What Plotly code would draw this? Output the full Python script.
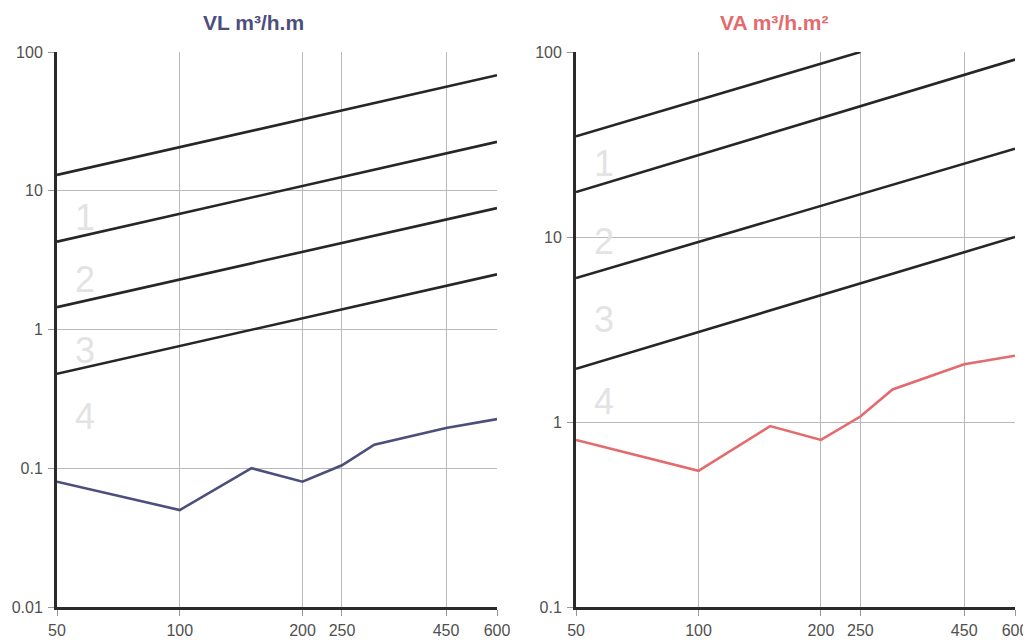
import math
import plotly.graph_objects as go

# ---------------- data ----------------
x_ticks = [50, 100, 200, 250, 450, 600]
x_grid = [100, 200, 250, 450]
x_ends = [50, 600]

# left panel (VL m3/h.m)
vl_line1 = [13.0, 68.0]
vl_line2 = [4.3, 22.5]
vl_line3 = [1.45, 7.5]
vl_line4 = [0.48, 2.5]
vl_x = [50, 100, 150, 200, 250, 300, 450, 600]
vl_y = [0.08, 0.05, 0.10, 0.08, 0.105, 0.148, 0.195, 0.226]
vl_label_y = [6.4, 2.3, 0.70, 0.238]

# right panel (VA m3/h.m2)
va_line1_x = [50, 250]
va_line1 = [35.0, 100.0]
va_line2 = [17.5, 91.0]
va_line3 = [6.0, 30.0]
va_line4 = [1.94, 10.0]
va_x = [50, 100, 150, 200, 250, 300, 450, 600]
va_y = [0.80, 0.545, 0.95, 0.80, 1.07, 1.5, 2.05, 2.28]
va_label_y = [25.0, 9.4, 3.6, 1.29]

zone_labels = ["1", "2", "3", "4"]

left_yticks = [0.01, 0.1, 1, 10, 100]
left_ytext = ["0.01", "0.1", "1", "10", "100"]
left_ygrid = [0.1, 1, 10]
right_yticks = [0.1, 1, 10, 100]
right_ytext = ["0.1", "1", "10", "100"]
right_ygrid = [1, 10]

titles = ["<b>VL m³/h.m</b>", "<b>VA m³/h.m²</b>"]

# ---------------- figure ----------------
fig = go.Figure()
BLACK = "#262626"
LW = 2.6
BLUE = "#4b4f7c"
RED = "#e46a6d"

for ys in [vl_line1, vl_line2, vl_line3, vl_line4]:
    fig.add_trace(go.Scatter(x=x_ends, y=ys, mode="lines",
                             line=dict(color=BLACK, width=LW),
                             xaxis="x", yaxis="y", showlegend=False, hoverinfo="skip"))
fig.add_trace(go.Scatter(x=vl_x, y=vl_y, mode="lines",
                         line=dict(color=BLUE, width=2.6),
                         xaxis="x", yaxis="y", showlegend=False))

fig.add_trace(go.Scatter(x=va_line1_x, y=va_line1, mode="lines",
                         line=dict(color=BLACK, width=LW),
                         xaxis="x2", yaxis="y2", showlegend=False, hoverinfo="skip"))
for ys in [va_line2, va_line3, va_line4]:
    fig.add_trace(go.Scatter(x=x_ends, y=ys, mode="lines",
                             line=dict(color=BLACK, width=LW),
                             xaxis="x2", yaxis="y2", showlegend=False, hoverinfo="skip"))
fig.add_trace(go.Scatter(x=va_x, y=va_y, mode="lines",
                         line=dict(color=RED, width=2.6),
                         xaxis="x2", yaxis="y2", showlegend=False))

FONT = "Liberation Sans, Arial, sans-serif"
tickfont = dict(family=FONT, size=16, color="#505050")
GRID = "#b9b9b9"


def xaxis_cfg(domain, anchor):
    return dict(type="log", domain=domain, anchor=anchor, automargin=False,
                range=[math.log10(x_ends[0]), math.log10(x_ends[1])],
                tickmode="array", tickvals=x_ticks, ticktext=[str(v) for v in x_ticks],
                ticks="outside", ticklen=6, tickcolor="#999", tickwidth=1,
                ticklabelstandoff=1,
                showline=True, linecolor="#2a2a2a", linewidth=3,
                showgrid=False, zeroline=False, tickfont=tickfont,
                minor=dict(tickmode="array", tickvals=x_grid,
                           showgrid=True, gridcolor=GRID, gridwidth=1, ticks=""))


def yaxis_cfg(domain, anchor, tv, tt, gridvals):
    return dict(type="log", domain=domain, anchor=anchor, automargin=False,
                range=[math.log10(tv[0]), math.log10(tv[-1])],
                tickmode="array", tickvals=tv, ticktext=tt,
                ticks="outside", ticklen=6, tickcolor="#999", tickwidth=1,
                ticklabelstandoff=2,
                showline=True, linecolor="#2a2a2a", linewidth=3,
                showgrid=False, zeroline=False, tickfont=tickfont,
                minor=dict(tickmode="array", tickvals=gridvals,
                           showgrid=True, gridcolor=GRID, gridwidth=1, ticks=""))


# page body has an 8px margin: size the figure so it fills the 1031x640 window
fig.update_layout(
    xaxis=xaxis_cfg([0, 0.4593], "y"),
    yaxis=yaxis_cfg([0, 1], "x", left_yticks, left_ytext, left_ygrid),
    xaxis2=xaxis_cfg([0.5418, 1], "y2"),
    yaxis2=yaxis_cfg([0, 1], "x2", right_yticks, right_ytext, right_ygrid),
    width=1023, height=632,
    margin=dict(l=49, r=16, t=44, b=33),
    paper_bgcolor="white", plot_bgcolor="white",
    showlegend=False,
)

labfont = dict(family=FONT, size=36, color="#e3e3e3")
annos = []
for t, yv in zip(zone_labels, vl_label_y):
    annos.append(dict(x=math.log10(58.5), y=math.log10(yv), xref="x", yref="y", text=t,
                      showarrow=False, font=labfont))
for t, yv in zip(zone_labels, va_label_y):
    annos.append(dict(x=math.log10(58.5), y=math.log10(yv), xref="x2", yref="y2", text=t,
                      showarrow=False, font=labfont))

annos.append(dict(x=0.205, y=1.0, yshift=30, xref="paper", yref="paper", text=titles[0],
                  showarrow=False, xanchor="center", yanchor="middle",
                  font=dict(family=FONT, size=21, color=BLUE)))
annos.append(dict(x=0.749, y=1.0, yshift=30, xref="paper", yref="paper", text=titles[1],
                  showarrow=False, xanchor="center", yanchor="middle",
                  font=dict(family=FONT, size=21, color=RED)))
fig.update_layout(annotations=annos)

fig.write_html("out.html")
